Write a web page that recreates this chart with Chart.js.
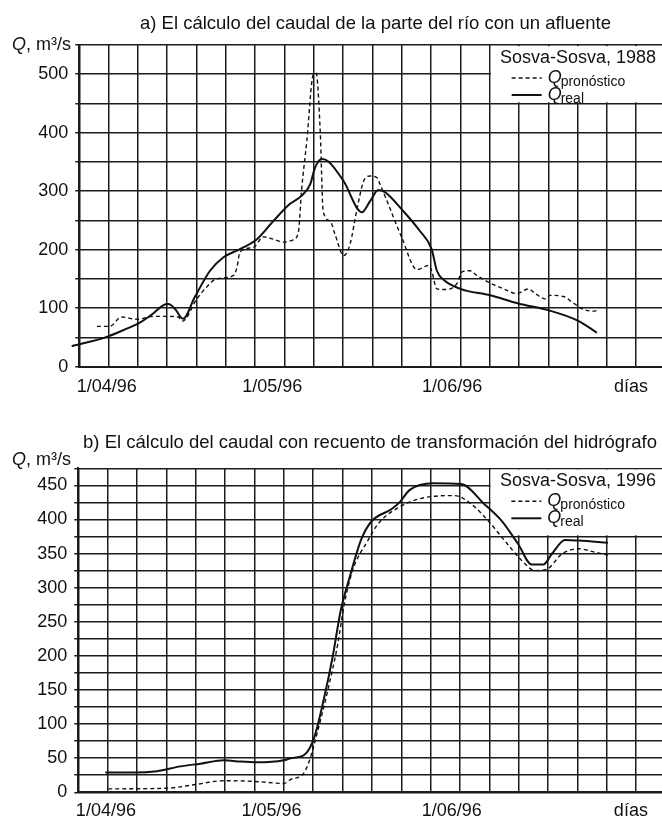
<!DOCTYPE html>
<html>
<head>
<meta charset="UTF-8">
<title>Sosva-Sosva</title>
<script src="https://cdn.jsdelivr.net/npm/chart.js"></script>
<style>
  body { margin: 0; background: #fff; }
  canvas { position: absolute; left: 0; }
  #chartA { top: 0; }
  #chartB { top: 410px; }
</style>
</head>
<body>
<canvas id="chartA" width="662" height="410"></canvas>
<canvas id="chartB" width="662" height="410"></canvas>
<script>
// x values are days counted from 1/04/96 (left axis)
const xLabelDays = [4.7, 32.9, 63.6, 94.1];
const xLabels = ['1/04/96', '1/05/96', '1/06/96', 'días'];

// a) Sosva-Sosva, 1988
const daysRealA = [-1.3, 4.7, 8.1, 10.1, 12.6, 14.3, 15.2, 16.3, 17.7, 19.7, 22.3, 24.6, 27.4, 30.3, 33.1, 35.9, 37.9, 39.4, 40.2, 41.4, 42.5, 45.1, 48.2, 49.6, 51.0, 52.2, 55.0, 58.1, 60.1, 61.0, 62.1, 65.0, 70.1, 74.9, 80.2, 85.2, 88.3];
const realA = [35, 51, 65, 74, 91, 105, 107, 99, 82, 119, 164, 187, 201, 218, 249, 278, 292, 312, 340, 355, 351, 317, 264, 283, 302, 298, 269, 232, 201, 164, 149, 133, 122, 108, 96, 78, 58];
const daysForecastA = [3.0, 5.2, 7.2, 9.8, 12.6, 15.5, 16.9, 17.6, 20.0, 21.7, 23.4, 26.3, 26.9, 27.4, 29.7, 31.4, 33.1, 34.8, 36.5, 37.4, 37.9, 38.8, 39.9, 40.4, 41.1, 41.6, 42.8, 43.6, 45.1, 46.2, 47.3, 48.5, 49.6, 50.8, 51.3, 52.7, 55.0, 57.6, 59.6, 60.1, 61.0, 62.4, 64.4, 65.3, 66.7, 67.8, 70.1, 72.4, 74.6, 76.6, 77.8, 79.5, 80.3, 82.6, 84.0, 86.0, 87.7, 88.6];
const forecastA = [69, 69, 85, 81, 86, 86, 85, 78, 115, 136, 150, 156, 170, 196, 204, 222, 218, 213, 217, 232, 300, 385, 499, 502, 402, 266, 249, 227, 190, 210, 266, 317, 326, 323, 312, 278, 221, 166, 173, 164, 133, 132, 142, 162, 164, 156, 143, 133, 125, 133, 125, 116, 122, 120, 111, 98, 95, 97];

// b) Sosva-Sosva, 1996
const daysRealB = [4.6, 9.4, 13.4, 17.4, 20.8, 24.8, 27.6, 30.5, 35.0, 36.2, 38.5, 40.2, 41.9, 43.3, 44.7, 46.2, 48.2, 49.9, 53.3, 54.7, 56.4, 60.4, 65.2, 69.2, 72.1, 74.9, 77.2, 79.2, 80.6, 82.9, 85.2, 90.2];
const realB = [29, 29, 31, 38, 42, 47, 45, 44, 47, 50, 55, 81, 140, 198, 267, 315, 371, 397, 415, 425, 443, 453, 452, 422, 398, 364, 334, 334, 349, 370, 369, 366];
const daysForecastB = [5.1, 15.1, 19.7, 24.8, 29.9, 35.0, 36.2, 38.3, 39.3, 40.5, 42.5, 44.2, 45.3, 46.7, 49.3, 51.0, 54.4, 58.4, 64.1, 67.0, 69.8, 72.6, 75.5, 77.8, 79.8, 82.3, 85.2, 88.0, 90.6];
const forecastB = [5, 6, 11, 17, 16, 13, 19, 27, 45, 81, 150, 218, 276, 325, 369, 393, 417, 431, 435, 422, 398, 369, 340, 325, 327, 349, 357, 352, 347];

const FONT = '"Liberation Sans", Arial, Helvetica, sans-serif';
const INK = '#111';
const GRID = '#1c1c1c';
const X_MAX = 99.4;

const toPoints = (xs, ys) => xs.map((x, i) => ({ x, y: ys[i] }));

const hydroText = {
    id: 'hydroText',
    beforeDatasetsDraw(chart, args, opts) {
        // legend box blanks out the grid cells behind it
        const { ctx, chartArea } = chart;
        const left = chart.scales.x.getPixelForValue(opts.boxFromDay);
        const bottom = chart.scales.y.getPixelForValue(opts.boxDownTo);
        ctx.save();
        ctx.fillStyle = '#fff';
        ctx.fillRect(left + 1.2, chartArea.top + 1.2, chartArea.right - left, bottom - chartArea.top - 2.4);
        ctx.restore();
    },
    afterDraw(chart, args, opts) {
        const { ctx, chartArea } = chart;
        ctx.save();
        ctx.fillStyle = INK;
        ctx.strokeStyle = INK;
        ctx.textBaseline = 'alphabetic';

        ctx.font = `18.5px ${FONT}`;
        ctx.textAlign = 'center';
        ctx.fillText(opts.title, opts.titleX, opts.titleY);

        // y unit: italic Q + ", m³/s"
        ctx.textAlign = 'left';
        ctx.font = `italic 18px ${FONT}`;
        ctx.fillText('Q', 12, opts.unitY);
        const qw = ctx.measureText('Q').width;
        ctx.font = `18px ${FONT}`;
        ctx.fillText(', m³/s', 12 + qw, opts.unitY);

        // legend
        const lx = chart.scales.x.getPixelForValue(opts.boxFromDay);
        const top = chartArea.top;
        ctx.textAlign = 'right';
        ctx.fillText(opts.legendTitle, 656, top + 18);
        ctx.textAlign = 'left';
        const rows = [
            { y: 33, dash: [4, 3], width: 1.4, sub: 'pronóstico' },
            { y: 50, dash: [], width: 2, sub: 'real' }
        ];
        rows.forEach(r => {
            ctx.setLineDash(r.dash);
            ctx.lineWidth = r.width;
            ctx.beginPath();
            ctx.moveTo(lx + 22, top + r.y);
            ctx.lineTo(lx + 52, top + r.y);
            ctx.stroke();
            ctx.font = `italic 18px ${FONT}`;
            ctx.fillText('Q', lx + 58, top + r.y + 5);
            const w = ctx.measureText('Q').width;
            ctx.font = `14px ${FONT}`;
            ctx.fillText(r.sub, lx + 57 + w, top + r.y + 7.5);
        });
        ctx.restore();
    }
};

function makeChart(id, cfg) {
    const tickFont = { family: FONT, size: 18 };
    return new Chart(document.getElementById(id), {
        type: 'line',
        data: {
            datasets: [
                {
                    label: 'Q pronóstico',
                    data: toPoints(cfg.forecastDays, cfg.forecast),
                    borderColor: INK,
                    borderWidth: 1.4,
                    borderDash: [4, 3],
                    pointRadius: 0,
                    cubicInterpolationMode: 'monotone',
                    fill: false
                },
                {
                    label: 'Q real',
                    data: toPoints(cfg.realDays, cfg.real),
                    borderColor: INK,
                    borderWidth: 2,
                    pointRadius: 0,
                    cubicInterpolationMode: 'monotone',
                    fill: false,
                    clip: false
                }
            ]
        },
        options: {
            responsive: false,
            animation: false,
            devicePixelRatio: 1,
            events: [],
            layout: { padding: { top: cfg.top, left: 0, right: 0, bottom: 0 } },
            plugins: {
                legend: { display: false },
                tooltip: { enabled: false },
                hydroText: cfg.text
            },
            scales: {
                x: {
                    type: 'linear',
                    position: 'bottom',
                    min: 0,
                    max: X_MAX,
                    afterBuildTicks: s => {
                        const t = [];
                        for (let d = 0; d <= 95; d += 5) t.push({ value: d });
                        s.ticks = t;
                    },
                    ticks: { display: false },
                    grid: { color: GRID, lineWidth: 1.5, drawTicks: false },
                    border: { color: GRID, width: 2 },
                    afterFit: s => { s.height = 0; }
                },
                xLabels: {
                    type: 'linear',
                    position: 'bottom',
                    min: 0,
                    max: X_MAX,
                    afterBuildTicks: s => { s.ticks = xLabelDays.map(v => ({ value: v })); },
                    ticks: {
                        callback: (v, i) => xLabels[i],
                        font: tickFont,
                        color: INK,
                        padding: cfg.labelPad,
                        maxRotation: 0,
                        autoSkip: false
                    },
                    grid: { display: false, drawTicks: false },
                    border: { display: false },
                    afterFit: s => { s.height = 410 - cfg.bottom; }
                },
                y: {
                    min: 0,
                    max: cfg.yMax,
                    ticks: {
                        stepSize: cfg.yStep,
                        callback: v => (v % cfg.yLabelStep === 0 && v <= cfg.yLabelMax) ? v : '',
                        font: tickFont,
                        color: INK,
                        padding: 7,
                        autoSkip: false
                    },
                    grid: { color: GRID, lineWidth: 1.5, tickLength: 4 },
                    border: { color: GRID, width: 2 },
                    afterFit: s => { s.width = cfg.left; }
                }
            }
        },
        plugins: [hydroText]
    });
}

makeChart('chartA', {
    realDays: daysRealA, real: realA,
    forecastDays: daysForecastA, forecast: forecastA,
    top: 45, bottom: 366.7, left: 79.3, labelPad: 10,
    yMax: 550, yStep: 50, yLabelStep: 100, yLabelMax: 500,
    text: {
        title: 'a) El cálculo del caudal de la parte del río con un afluente',
        titleX: 375.5, titleY: 29, unitY: 49.5,
        legendTitle: 'Sosva-Sosva, 1988',
        boxFromDay: 70, boxDownTo: 450
    }
});

makeChart('chartB', {
    realDays: daysRealB, real: realB,
    forecastDays: daysForecastB, forecast: forecastB,
    top: 58.3, bottom: 382.3, left: 78.3, labelPad: 8,
    yMax: 475, yStep: 25, yLabelStep: 50, yLabelMax: 450,
    text: {
        title: 'b) El cálculo del caudal con recuento de transformación del hidrógrafo',
        titleX: 370, titleY: 37.5, unitY: 55,
        legendTitle: 'Sosva-Sosva, 1996',
        boxFromDay: 70, boxDownTo: 375
    }
});
</script>
</body>
</html>
